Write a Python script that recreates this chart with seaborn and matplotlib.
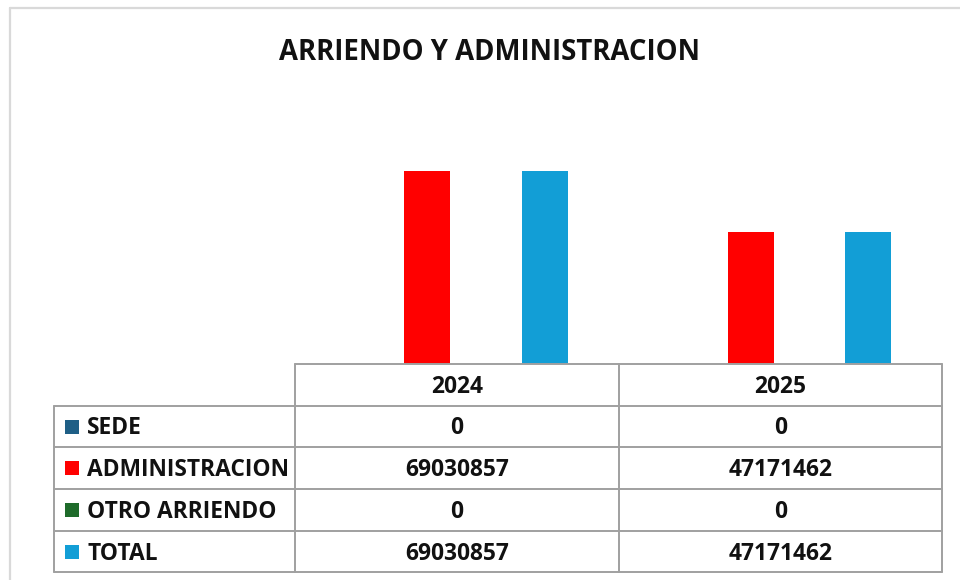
import matplotlib
matplotlib.use("Agg")
import matplotlib.pyplot as plt
import seaborn as sns
import pandas as pd
from matplotlib.lines import Line2D
from matplotlib.patches import Rectangle

# ---- data ----
years = ["2024", "2025"]
series = ["SEDE", "ADMINISTRACION", "OTRO ARRIENDO", "TOTAL"]
sede = [0, 0]
administracion = [69030857, 47171462]
otro_arriendo = [0, 0]
total = [69030857, 47171462]
colors = ["#1F5F86", "#FF0000", "#1E6B2A", "#129ED6"]
title = "ARRIENDO Y ADMINISTRACION"

values = [sede, administracion, otro_arriendo, total]
rows = []
for s, vals in zip(series, values):
    for y, v in zip(years, vals):
        rows.append({"year": y, "serie": s, "value": v})
df = pd.DataFrame(rows)

sns.set_theme(style="white")
plt.rcParams["font.family"] = ["Open Sans", "DejaVu Sans"]

W, H = 960, 580
fig = plt.figure(figsize=(W / 100, H / 100), dpi=100)

def fx(px):
    return px / W

def fy(py):
    return 1 - py / H

# axes area in pixel coords
ax_l, ax_r, ax_t, ax_b = 295, 942, 120, 364
ax = fig.add_axes([fx(ax_l), fy(ax_b), fx(ax_r - ax_l), (ax_b - ax_t) / H])
sns.barplot(data=df, x="year", y="value", hue="serie", order=years,
            hue_order=series, palette=colors, width=0.7234, gap=0.2137,
            ax=ax, legend=False, saturation=1, edgecolor="none")
ax.set_xlim(-0.5, 1.5)
ax.set_ylim(0, 87.3e6)
ax.axis("off")

# title
fig.text(fx(490), fy(52), title, ha="center", va="center",
         fontsize=19.8, fontweight="bold", color="#111111")

# outer frame (light gray)
frame_c = "#D9D9D9"
fig.add_artist(Line2D([fx(10), fx(10)], [fy(8), fy(580)], color=frame_c, lw=1.6))
fig.add_artist(Line2D([fx(10), fx(960)], [fy(8), fy(8)], color=frame_c, lw=1.6))

# data table
line_c = "#A0A0A0"
lw = 1.4
col_x = [54, 295, 619, 942]
row_y = [364, 406, 447, 489, 531, 572]

def hline(x0, x1, y):
    fig.add_artist(Line2D([fx(x0), fx(x1)], [fy(y), fy(y)], color=line_c, lw=lw))

def vline(x, y0, y1):
    fig.add_artist(Line2D([fx(x), fx(x)], [fy(y0), fy(y1)], color=line_c, lw=lw))

hline(col_x[1], col_x[3], row_y[0])
for y in row_y[1:]:
    hline(col_x[0], col_x[3], y)
vline(col_x[0], row_y[1], row_y[-1])
for x in col_x[1:]:
    vline(x, row_y[0], row_y[-1])

fs = 16.4
dy = 2
# header
for i, yr in enumerate(years):
    cx = (col_x[i + 1] + col_x[i + 2]) / 2
    cy = (row_y[0] + row_y[1]) / 2
    fig.text(fx(cx), fy(cy + dy), yr, ha="center", va="center",
             fontsize=fs, fontweight="bold", color="#111111")

for r, (s, vals, c) in enumerate(zip(series, values, colors)):
    cy = (row_y[r + 1] + row_y[r + 2]) / 2
    fig.add_artist(Rectangle((fx(65), fy(cy + 7)), 14 / W, 14 / H,
                             facecolor=c, edgecolor="none",
                             transform=fig.transFigure))
    fig.text(fx(87), fy(cy + dy), s, ha="left", va="center",
             fontsize=fs, fontweight="bold", color="#111111")
    for i, v in enumerate(vals):
        cx = (col_x[i + 1] + col_x[i + 2]) / 2
        fig.text(fx(cx), fy(cy + dy), f"{v}", ha="center", va="center",
                 fontsize=fs, fontweight="bold", color="#111111")

fig.savefig("out.png", dpi=100)
